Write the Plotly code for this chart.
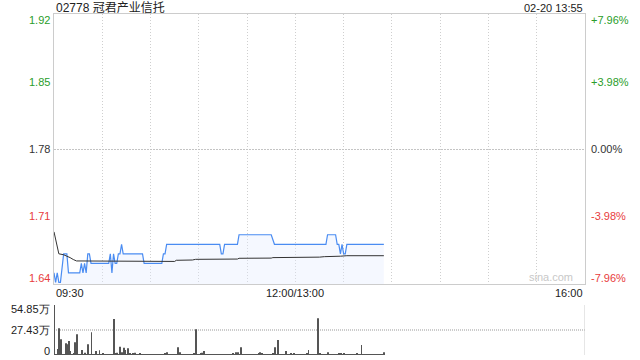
import plotly.graph_objects as go

title_text = "02778 冠君产业信托"
stamp_text = "02-20 13:55"
prev_close = 1.78

price_times = ["09:30","09:31","09:32","09:33","09:34","09:36","09:38","09:39","09:46","09:47",
               "09:48","09:49","09:50","09:51","09:52","09:53","10:04","10:05","10:06","10:07",
               "10:08","10:09","10:10","10:11","10:12","10:13","10:25","10:26","10:37","10:38",
               "10:39","10:40","11:13","11:14","11:15","11:16","11:24","11:25","11:45","11:47",
               "13:19","13:20","13:25","13:26","13:27","13:28","13:29","13:30","13:31","13:32","13:55"]
price_values = [1.65,1.64,1.65,1.64,1.64,1.67,1.67,1.65,1.65,1.66,
                1.65,1.66,1.65,1.67,1.67,1.66,1.66,1.67,1.65,1.67,
                1.66,1.66,1.67,1.67,1.68,1.67,1.67,1.66,1.66,1.67,
                1.67,1.68,1.68,1.67,1.67,1.68,1.68,1.69,1.69,1.68,
                1.68,1.69,1.69,1.68,1.68,1.67,1.68,1.67,1.67,1.68,1.68]

avg_times = ["09:30","09:33","09:36","09:39","09:40","09:42","09:44","10:45","10:46","10:56",
             "10:58","11:24","11:25","11:45","11:46","13:15","13:18","13:28","13:32","13:55"]
avg_values = [1.693,1.670,1.669,1.667,1.666,1.664,1.6625,1.662,1.6632,1.6635,
              1.6642,1.6645,1.6653,1.6655,1.666,1.6665,1.667,1.6675,1.668,1.668]

# volume per minute (万), starting 09:30
vol_values = [54.85,0.9,6.6,29.3,17.2,1.0,0.7,12.8,11.7,15.4,
              4.4,0.8,1.8,13.9,22.7,1.0,0.6,5.5,0.9,2.6,
              1.0,11.7,1.1,24.9,1.0,0.7,4.4,1.0,5.1,0.8,
              1.2,0.9,1.0,0.8,1.1,0.7,0.9,39.5,1.8,2.6,
              0.9,9.1,2.9,8.0,5.5,1.0,7.3,1.8,0.8,1.2,
              2.6,0.8,1.0,1.8,0.9,1.1,0.7,0.8,1.0,0.9,
              0.8,1.0,0.7,0.9,1.1,0.8,0.7,1.0,0.9,1.2,
              2.9,0.8,1.0,0.9,1.1,0.8,1.0,8.4,2.9,1.0,
              0.9,0.8,1.1,0.9,0.7,1.0,0.8,1.2,28.2,1.0,
              0.9,1.8,2.6,4.4,1.0,0.8,0.9,0.7,1.1,0.9,
              0.8,1.0,0.7,0.9,1.1,0.8,1.0,0.9,0.8,1.1,
              0.9,1.2,1.0,2.9,2.9,1.0,8.4,1.1,0.9,0.8,
              1.0,0.7,0.9,1.1,0.8,1.0,0.9,1.2,2.9,1.8,
              0.9,1.0,0.8,1.1,0.9,1.0,1.2,8.4,1.0,16.5,
              1.1,0.9,1.0,0.8,4.4,1.0,0.9,1.8,1.0,1.2,
              0.9,1.0,0.8,1.1,0.9,0.7,1.0,1.2,5.5,1.0,
              0.8,0.9,1.1,1.0,40.2,1.8,0.9,1.0,0.8,1.1,
              2.9,1.0,0.9,0.8,1.1,1.0,0.9,1.2,1.8,1.0,
              1.8,0.9,1.0,0.8,1.1,0.9,1.0,0.8,1.2,0.9,
              1.0,11.0,1.1,0.9,1.0,0.8,0.9,1.1,1.0,0.8,
              0.9,1.0,1.1,0.8,1.0,2.9]

price_ticks = [1.92, 1.85, 1.78, 1.71, 1.64]
pct_ticks = ["+7.96%", "+3.98%", "0.00%", "-3.98%", "-7.96%"]
vol_ticks = [54.85, 27.43, 0]
vol_tick_text = ["54.85万", "27.43万", "0"]
time_ticks = ["09:30", "12:00/13:00", "16:00"]

GREEN = "#2a9d2a"
RED = "#e83c3c"
DARK = "#333333"
FONT = "Liberation Sans, Arial, sans-serif"


def tmin(t):
    h, m = map(int, t.split(":")[0:2])
    v = h * 60 + m - 570
    if v >= 210:
        v -= 60
    return v


px = [tmin(t) for t in price_times]
ax = [tmin(t) for t in avg_times]
vx = list(range(len(vol_values)))

ymin = prev_close * (1 - 0.0796)
ymax = prev_close * (1 + 0.0796)

fig = go.Figure()
fig.add_trace(go.Scatter(x=px, y=price_values, mode="lines",
                         line=dict(color="#4a8cf2", width=1.2),
                         fill="tozeroy", fillcolor="rgba(225,236,255,0.35)",
                         xaxis="x", yaxis="y", hoverinfo="skip"))
fig.add_trace(go.Scatter(x=ax, y=avg_values, mode="lines",
                         line=dict(color=DARK, width=1),
                         xaxis="x", yaxis="y", hoverinfo="skip"))
fig.add_trace(go.Bar(x=vx, y=vol_values, width=0.55,
                     marker=dict(color="#555555", line=dict(width=0)),
                     xaxis="x2", yaxis="y2", hoverinfo="skip"))

H = 360
t_m, b_m = 14, 5
ph = H - t_m - b_m
main_bottom = (H - b_m - 284) / ph
vol_top = (H - b_m - 305) / ph

fig.update_layout(
    width=640, height=360,
    margin=dict(l=54, r=55, t=t_m, b=b_m),
    paper_bgcolor="white", plot_bgcolor="white",
    showlegend=False,
    font=dict(family=FONT, size=11, color=DARK),
    xaxis=dict(domain=[0, 1], range=[0, 330], tickvals=list(range(0, 331, 30)),
               showticklabels=False, showgrid=True, gridcolor="#cfcfcf", griddash="1px,2px",
               gridwidth=1, showline=True, linecolor="#cccccc", mirror=True, zeroline=False,
               anchor="y", fixedrange=True),
    yaxis=dict(domain=[main_bottom, 1], range=[ymin, ymax], tickvals=[prev_close],
               showticklabels=False, showgrid=True, gridcolor="#c4c4c4", griddash="2px,1px",
               showline=True, linecolor="#cccccc", mirror=True, zeroline=False,
               anchor="x", fixedrange=True),
    xaxis2=dict(domain=[0, 1], range=[-0.3, 330], showticklabels=False, showgrid=False,
                showline=False, zeroline=False, anchor="y2", fixedrange=True),
    yaxis2=dict(domain=[0, vol_top], range=[0, 54.85], tickvals=vol_ticks,
                showticklabels=False, showgrid=True, gridcolor="#cccccc", griddash="1px,1px",
                gridwidth=1.5, showline=False, zeroline=False, anchor="x2", fixedrange=True),
)

# right border of volume panel
fig.add_shape(type="line", xref="x2", yref="y2", x0=330, x1=330, y0=0, y1=54.85,
              line=dict(color="#cccccc", width=1))

ann = []
ann.append(dict(text=title_text, xref="paper", yref="paper", x=0, y=1, xanchor="left",
                yanchor="middle", yshift=6, showarrow=False,
                font=dict(size=12, color="#222", family="Liberation Sans, Noto Sans CJK SC")))
ann.append(dict(text=stamp_text, xref="paper", yref="paper", x=1, y=1, xanchor="right",
                yanchor="middle", yshift=6, showarrow=False, font=dict(size=11, color="#222")))

colors = [GREEN, GREEN, DARK, RED, RED]
shifts = [-4, 0, 0, 0, 4]
for v, pt, c, s in zip(price_ticks, pct_ticks, colors, shifts):
    ann.append(dict(text=f"{v:.2f}", xref="paper", yref="y", x=0, y=v, xanchor="right",
                    yanchor="middle", xshift=-2, yshift=s, showarrow=False,
                    font=dict(size=11, color=c)))
    ann.append(dict(text=pt, xref="paper", yref="y", x=1, y=v, xanchor="left",
                    yanchor="middle", xshift=4, yshift=s, showarrow=False,
                    font=dict(size=11, color=c)))

time_pos = [0, 150, 330]
time_anchor = ["left", "center", "right"]
for t, p, a in zip(time_ticks, time_pos, time_anchor):
    ann.append(dict(text=t, xref="x", yref="paper", x=p, y=main_bottom, xanchor=a,
                    yanchor="top", yshift=-1, showarrow=False, font=dict(size=11, color="#222")))

vshifts = [-4, 0, 4]
for v, tt, s in zip(vol_ticks, vol_tick_text, vshifts):
    ann.append(dict(text=tt, xref="paper", yref="y2", x=0, y=v, xanchor="right",
                    yanchor="middle", xshift=-2, yshift=s, showarrow=False,
                    font=dict(size=11, color="#222")))

ann.append(dict(text="sina.com", xref="paper", yref="paper", x=1, y=main_bottom,
                xanchor="right", yanchor="bottom", xshift=-10, yshift=-1, showarrow=False,
                font=dict(size=11, color="#c8c8c8")))

fig.update_layout(annotations=ann)
fig.write_html("out.html", config={"displayModeBar": False},
               post_script="document.body.style.margin='0';document.body.style.overflow='hidden';")
